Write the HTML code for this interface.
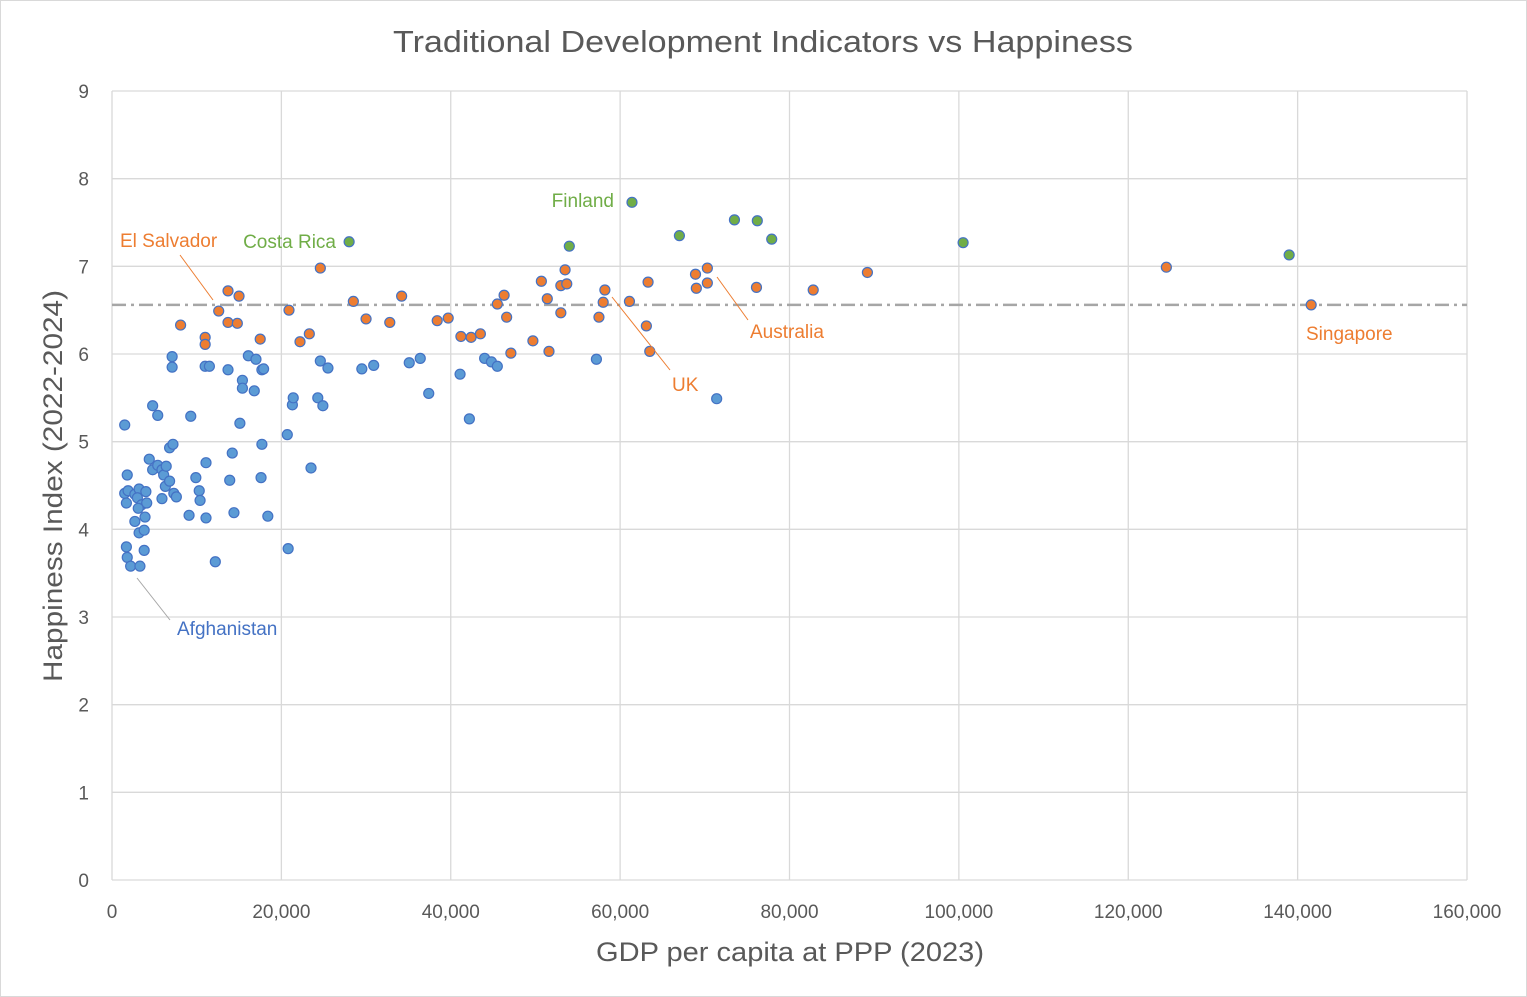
<!DOCTYPE html>
<html><head><meta charset="utf-8"><style>
html,body{margin:0;padding:0;background:#fff;}
svg{display:block;font-family:"Liberation Sans",sans-serif;}
</style></head><body>
<svg id="chart" width="1527" height="997" viewBox="0 0 1527 997">
<rect x="0.5" y="0.5" width="1526" height="996" fill="#fff" stroke="#d9d9d9"/>
<text x="763" y="52" text-anchor="middle" font-size="31" fill="#595959" textLength="740" lengthAdjust="spacingAndGlyphs">Traditional Development Indicators vs Happiness</text>
<text x="790" y="961" text-anchor="middle" font-size="27" fill="#595959" textLength="388" lengthAdjust="spacingAndGlyphs">GDP per capita at PPP (2023)</text>
<text transform="translate(62,486) rotate(-90)" text-anchor="middle" font-size="27" fill="#595959" textLength="392" lengthAdjust="spacingAndGlyphs">Happiness Index (2022-2024)</text>
<g id="grid"></g><g id="marks"></g><g id="labels"></g>
</svg>
<script>
const xTicks=[0,20000,40000,60000,80000,100000,120000,140000,160000];
const yTicks=[0,1,2,3,4,5,6,7,8,9];
const avgHappiness=6.56;
const greenX=[61.4,28.0,54.0,67.0,73.5,76.2,77.9,100.5,139.0];
const greenY=[7.73,7.28,7.23,7.35,7.53,7.52,7.31,7.27,7.13];
const orangeX=[12.6,13.7,15.0,13.7,14.8,11.0,11.0,8.1,17.5,20.9,22.2,23.3,24.6,28.5,30.0,32.8,34.2,38.4,39.7,41.2,42.4,43.5,45.5,46.3,46.6,47.1,49.7,50.7,51.4,51.6,53.0,53.0,53.5,53.7,57.5,58.0,58.2,61.1,63.1,63.3,63.5,68.9,69.0,70.3,70.3,76.1,82.8,89.2,124.5,141.6];
const orangeY=[6.49,6.72,6.66,6.36,6.35,6.19,6.11,6.33,6.17,6.50,6.14,6.23,6.98,6.60,6.40,6.36,6.66,6.38,6.41,6.20,6.19,6.23,6.57,6.67,6.42,6.01,6.15,6.83,6.63,6.03,6.47,6.78,6.96,6.80,6.42,6.59,6.73,6.60,6.32,6.82,6.03,6.91,6.75,6.98,6.81,6.76,6.73,6.93,6.99,6.56];
const blueX=[1.5,1.8,1.5,1.7,1.9,2.7,3.2,3.0,3.5,4.0,4.1,3.1,2.7,3.9,3.2,3.8,1.7,1.8,2.2,3.3,3.8,4.4,4.8,4.8,5.4,5.4,5.9,6.1,6.4,6.3,5.9,6.8,6.8,7.2,7.3,7.6,7.1,7.1,9.1,9.3,9.9,10.3,10.4,11.1,11.1,11.0,11.5,12.2,13.7,13.9,14.2,14.4,15.1,15.4,15.4,16.1,16.8,17.0,17.6,17.7,17.7,17.9,18.4,20.7,20.8,21.3,21.4,23.5,24.3,24.6,24.9,25.5,29.5,30.9,35.1,36.4,37.4,41.1,42.2,44.0,44.8,45.5,57.2,71.4];
const blueY=[5.19,4.62,4.41,4.30,4.44,4.40,4.46,4.36,4.28,4.43,4.30,4.24,4.09,4.14,3.96,3.99,3.80,3.68,3.58,3.58,3.76,4.80,5.41,4.68,5.30,4.73,4.68,4.62,4.72,4.49,4.35,4.55,4.93,4.97,4.41,4.37,5.97,5.85,4.16,5.29,4.59,4.44,4.33,4.76,4.13,5.86,5.86,3.63,5.82,4.56,4.87,4.19,5.21,5.70,5.61,5.98,5.58,5.94,4.59,4.97,5.82,5.83,4.15,5.08,3.78,5.42,5.50,4.70,5.50,5.92,5.41,5.84,5.83,5.87,5.90,5.95,5.55,5.77,5.26,5.95,5.91,5.86,5.94,5.49];
const X0=112,X1=1467,Y0=880,Y1=91;
const sx=v=>X0+(v/160000)*(X1-X0);
const sy=v=>Y0-(v/9)*(Y0-Y1);
const NS='http://www.w3.org/2000/svg';
function mk(tag,attrs,parent,txt){const e=document.createElementNS(NS,tag);for(const k in attrs)e.setAttribute(k,attrs[k]);if(txt!==undefined)e.textContent=txt;parent.appendChild(e);return e;}
const grid=document.getElementById('grid'),marks=document.getElementById('marks'),labels=document.getElementById('labels');
yTicks.forEach(t=>{
  const l=mk('line',{x1:X0,x2:X1,y1:sy(t),y2:sy(t),stroke:'#d9d9d9','stroke-width':1.3},grid);
  
  
  const tx=mk('text',{x:X0-23,y:sy(t)+7,'text-anchor':'end','font-size':19,fill:'#595959'},grid,String(t));
  
  
});
xTicks.forEach(t=>{
  const l=mk('line',{x1:sx(t),x2:sx(t),y1:Y1,y2:Y0,stroke:'#d9d9d9','stroke-width':1.3},grid);
  
  
  const tx=mk('text',{x:sx(t),y:Y0+38,'text-anchor':'middle','font-size':19,fill:'#595959'},grid,t.toLocaleString('en-US'));
  
  
});
const avg=mk('line',{x1:X0,x2:X1,y1:sy(avgHappiness),y2:sy(avgHappiness),stroke:'#a6a6a6','stroke-width':2.5,'stroke-dasharray':'14 5 3 5'},grid);


function series(xs,ys,fill,name){xs.forEach((v,i)=>{
  const c=mk('circle',{cx:sx(v*1000),cy:sy(ys[i]),r:5,fill:fill,stroke:'#4472c4','stroke-width':1.2},marks);
  
  
});}
series(blueX,blueY,'#5b9bd5','point-blue');
series(orangeX,orangeY,'#ed7d31','point-orange');
series(greenX,greenY,'#70ad47','point-green');
const lab=[['Finland',614,207,'end','#70ad47'],['Costa Rica',336,248,'end','#70ad47'],['El Salvador',120,247,'start','#ed7d31'],['Australia',750,338,'start','#ed7d31'],['UK',672,391,'start','#ed7d31'],['Singapore',1306,340,'start','#ed7d31'],['Afghanistan',177,635,'start','#4472c4']];
lab.forEach(a=>{
  const t=mk('text',{x:a[1],y:a[2],'text-anchor':a[3],'font-size':19,fill:a[4]},labels,a[0]);
  
  
});
const leaders=[[180,255,213,300,'#ed7d31'],[717,277,748,320,'#ed7d31'],[612,297,670,370,'#ed7d31'],[137,578,170,620,'#a6a6a6']];
leaders.forEach(a=>{
  const l=mk('line',{x1:a[0],y1:a[1],x2:a[2],y2:a[3],stroke:a[4],'stroke-width':1},labels);
  
  
});
</script>
</body></html>
